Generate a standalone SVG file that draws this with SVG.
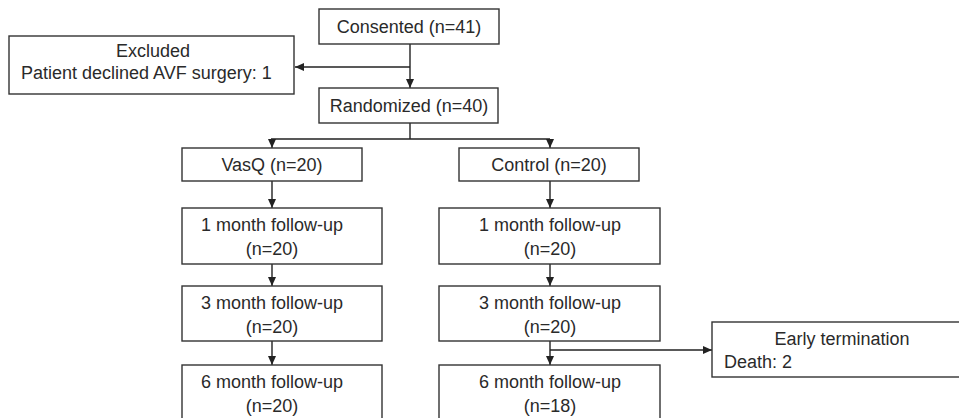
<svg xmlns="http://www.w3.org/2000/svg" width="959" height="418" viewBox="0 0 959 418">
<defs>
<marker id="ah" markerWidth="10" markerHeight="10" refX="9" refY="5" orient="auto" markerUnits="userSpaceOnUse">
<path d="M0,1 L9,5 L0,9 Z" fill="#222"/>
</marker>
<style>
.box{fill:#fff;stroke:#333;stroke-width:1.4}
.t{font-family:"Liberation Sans",Arial,sans-serif;font-size:18px;fill:#2a2a2a}
.c{text-anchor:middle}
.ln{fill:none;stroke:#222;stroke-width:1.4}
.ar{fill:none;stroke:#222;stroke-width:1.4;marker-end:url(#ah)}
</style>
</defs>
<rect width="959" height="418" fill="#fff"/>
<g id="connectors">
<path class="ar" d="M410,44 V88"/>
<path class="ar" d="M410,67 H295"/>
<path class="ln" d="M410,123 V139 M271,139 H550"/>
<path class="ar" d="M272,139 V148"/>
<path class="ar" d="M550,139 V148"/>
<path class="ar" d="M272,181 V208"/>
<path class="ar" d="M550,181 V208"/>
<path class="ar" d="M272,264 V286"/>
<path class="ar" d="M550,264 V286"/>
<path class="ar" d="M272,341 V365"/>
<path class="ar" d="M550,341 V365"/>
<path class="ar" d="M550,350 H712"/>
</g>
<g id="consented"><rect class="box" x="319" y="9" width="180" height="35"/><text class="t c" x="409" y="33">Consented (n=41)</text></g>
<g id="excluded"><rect class="box" x="9" y="36" width="285" height="58"/><text class="t c" x="153" y="57">Excluded</text><text class="t" x="21" y="79">Patient declined AVF surgery: 1</text></g>
<g id="randomized"><rect class="box" x="319" y="88" width="179" height="35"/><text class="t c" x="409" y="112">Randomized (n=40)</text></g>
<g id="vasq"><rect class="box" x="182" y="148" width="180" height="33"/><text class="t c" x="272" y="171">VasQ (n=20)</text></g>
<g id="control"><rect class="box" x="459" y="148" width="180" height="33"/><text class="t c" x="549" y="171">Control (n=20)</text></g>
<g id="vasq-1m"><rect class="box" x="182" y="208" width="200" height="56"/><text class="t c" x="272" y="231">1 month follow-up</text><text class="t c" x="272" y="255">(n=20)</text></g>
<g id="control-1m"><rect class="box" x="439" y="208" width="221" height="56"/><text class="t c" x="550" y="231">1 month follow-up</text><text class="t c" x="550" y="255">(n=20)</text></g>
<g id="vasq-3m"><rect class="box" x="182" y="286" width="200" height="55"/><text class="t c" x="272" y="309">3 month follow-up</text><text class="t c" x="272" y="333">(n=20)</text></g>
<g id="control-3m"><rect class="box" x="439" y="286" width="221" height="55"/><text class="t c" x="550" y="309">3 month follow-up</text><text class="t c" x="550" y="333">(n=20)</text></g>
<g id="early-termination"><rect class="box" x="712" y="322" width="252" height="55"/><text class="t c" x="842" y="345">Early termination</text><text class="t" x="724" y="368">Death: 2</text></g>
<g id="vasq-6m"><rect class="box" x="182" y="365" width="200" height="60"/><text class="t c" x="272" y="388">6 month follow-up</text><text class="t c" x="272" y="412">(n=20)</text></g>
<g id="control-6m"><rect class="box" x="439" y="365" width="221" height="60"/><text class="t c" x="550" y="388">6 month follow-up</text><text class="t c" x="550" y="412">(n=18)</text></g>
</svg>
